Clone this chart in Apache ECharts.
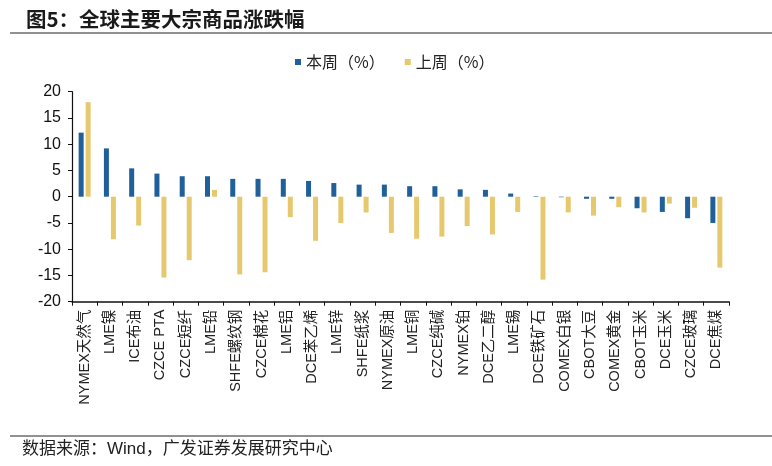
<!DOCTYPE html>
<html><head><meta charset="utf-8">
<script src="https://cdn.jsdelivr.net/npm/echarts@6/dist/echarts.min.js"></script>
<style>html,body{margin:0;padding:0;background:#fff}#c{width:772px;height:466px}</style>
</head><body><div id="c"></div>
<script>
const categories = ['NYMEX天然气','LME镍','ICE布油','CZCE PTA','CZCE短纤','LME铅','SHFE螺纹钢','CZCE棉花','LME铝','DCE苯乙烯','LME锌','SHFE纸浆','NYMEX原油','LME铜','CZCE纯碱','NYMEX铂','DCE乙二醇','LME锡','DCE铁矿石','COMEX白银','CBOT大豆','COMEX黄金','CBOT玉米','DCE玉米','CZCE玻璃','DCE焦煤'];
const thisWeek = [12.2,9.2,5.4,4.4,3.9,3.9,3.4,3.4,3.4,3.0,2.6,2.3,2.3,2.0,2.0,1.4,1.3,0.6,0.1,-0.1,-0.4,-0.4,-2.2,-2.9,-4.1,-5.0];
const lastWeek = [18.0,-8.1,-5.5,-15.4,-12.1,1.3,-14.8,-14.4,-3.9,-8.4,-5.0,-3.0,-6.9,-8.0,-7.6,-5.6,-7.2,-2.9,-15.8,-3.0,-3.6,-2.0,-3.0,-1.3,-2.1,-13.5];
const yTicks = {min:-20, max:20, interval:5};

const chart = echarts.init(document.getElementById('c'), null, {renderer:'canvas'});
const cjk = "'Liberation Sans', Arial, 'Noto Sans CJK SC', sans-serif";
chart.setOption({
  animation:false,
  backgroundColor:'#fff',
  title:{text:'图5：全球主要大宗商品涨跌幅', left:21, top:4,
    textStyle:{fontSize:20.5, fontWeight:'bold', color:'#1a1a1a', fontFamily:"'Noto Sans CJK SC', sans-serif"}},
  graphic:[
    {type:'line', shape:{x1:10,y1:33,x2:772,y2:33}, style:{stroke:'#222', lineWidth:1}},
    {type:'line', shape:{x1:10,y1:436,x2:772,y2:436}, style:{stroke:'#222', lineWidth:1}},
    {type:'text', left:22, top:441, style:{text:'数据来源：Wind，广发证券发展研究中心', fontSize:17, fill:'#222', fontFamily:cjk}}
  ],
  legend:{top:49, left:290, itemWidth:6, itemHeight:6, itemGap:20, icon:'rect',
    textStyle:{fontSize:16, color:'#222', fontFamily:"'Noto Sans CJK SC', sans-serif"},
    data:['本周（%）','上周（%）']},
  grid:{left:72, right:43, top:91.7, bottom:164.3},
  xAxis:[
    {type:'category', data:categories, position:'bottom',
      axisLine:{show:false}, axisTick:{show:false},
      axisLabel:{rotate:90, interval:0, fontSize:14.5, color:'#222', margin:8, fontFamily:cjk}},
    {type:'category', data:categories, position:'bottom',
      axisLine:{show:true, onZero:true, lineStyle:{color:'#111', width:1.5}},
      axisTick:{show:true, interval:0, length:4, lineStyle:{color:'#111'}},
      axisLabel:{show:false}}
  ],
  yAxis:{type:'value', min:yTicks.min, max:yTicks.max, interval:yTicks.interval,
    splitLine:{show:false},
    axisLine:{show:true, lineStyle:{color:'#111', width:1.2}},
    axisTick:{show:true, length:4, lineStyle:{color:'#111'}},
    axisLabel:{fontSize:16, color:'#111', margin:11, fontFamily:"'Liberation Sans', Arial, sans-serif"}},
  series:[
    {name:'本周（%）', type:'bar', data:thisWeek, barWidth:5, barGap:'40%', itemStyle:{color:'#1f5f9a'}},
    {name:'上周（%）', type:'bar', data:lastWeek, barWidth:5, barGap:'40%', itemStyle:{color:'#e6c86e'}}
  ]
});
</script></body></html>
